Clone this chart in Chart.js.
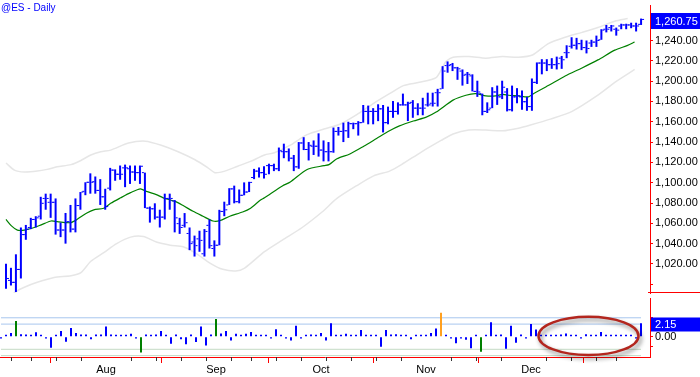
<!DOCTYPE html>
<html><head><meta charset="utf-8">
<script src="https://cdn.jsdelivr.net/npm/chart.js@4/dist/chart.umd.min.js"></script>
<style>
html,body{margin:0;padding:0;background:#fff;width:700px;height:377px;overflow:hidden;}
#wrap{position:relative;width:700px;height:377px;}
#cA{position:absolute;left:0;top:0;}
#cB{position:absolute;left:0;top:298px;}
#title{position:absolute;left:1px;top:2px;font:10px "Liberation Sans",Arial,sans-serif;color:#0000ff;line-height:12px;white-space:nowrap;}
</style></head><body>
<div id="wrap">
<canvas id="cA" width="700" height="298"></canvas>
<canvas id="cB" width="700" height="79"></canvas>
<div id="title">@ES - Daily</div>
</div>
<script>
// ---- Daily OHLC (index = trading day, Jul 1 .. end of Dec) ----
const openVals = [1011.4,1003.8,1001.9,1014.6,1048.9,1055.9,1063.8,1067.0,1084.5,1080.7,
1080.7,1053.4,1053.4,1061.6,1054.3,1077.5,1091.5,1100.4,1101.0,1092.4,
1086.1,1094.6,1112.4,1108.3,1114.6,1113.7,1110.5,1109.9,1109.9,1075.0,
1074.3,1066.1,1066.1,1084.5,1082.0,1059.7,1058.0,1050.0,1041.6,1044.7,
1030.0,1058.0,1035.2,1038.4,1071.7,1078.1,1093.9,1081.3,1087.6,1090.8,
1105.1,1111.4,1109.9,1116.8,1116.8,1113.7,1130.5,1130.5,1124.1,1115.6,
1139.1,1132.7,1135.9,1135.9,1132.1,1130.5,1130.5,1150.5,1150.5,1151.1,
1158.1,1158.1,1159.1,1170.2,1170.2,1170.2,1172.7,1159.1,1170.2,1170.2,
1176.6,1176.6,1179.1,1173.4,1173.4,1176.6,1178.2,1188.6,1192.4,1215.3,
1216.3,1213.1,1209.9,1206.7,1205.2,1189.9,1187.7,1170.2,1173.4,1189.3,
1184.5,1189.3,1171.8,1184.5,1184.5,1179.7,1174.9,1198.8,1217.8,1217.8,
1216.2,1216.2,1222.6,1228.0,1234.3,1235.3,1236.9,1233.0,1237.5,1238.4,
1240.7,1251.1,1252.7,1251.1,1254.3,1255.3,1255.3,1254.3,1255.9];
const highVals = [1020.3,1016.2,1029.5,1055.9,1058.4,1065.4,1067.0,1086.1,1089.2,1089.2,
1084.5,1060.7,1070.2,1078.1,1084.5,1090.8,1100.4,1109.2,1106.1,1103.5,
1094.0,1114.6,1113.1,1116.9,1117.8,1116.9,1116.9,1116.9,1109.9,1076.5,
1079.7,1073.4,1089.2,1089.2,1082.9,1065.4,1070.1,1055.9,1047.9,1052.7,
1054.3,1063.8,1043.2,1073.3,1081.3,1094.6,1097.1,1093.3,1100.3,1100.9,
1113.6,1115.0,1116.2,1118.7,1118.7,1134.6,1138.4,1133.7,1127.3,1140.0,
1144.8,1140.0,1141.6,1148.6,1141.6,1140.0,1154.3,1154.9,1159.1,1160.0,
1159.1,1160.6,1176.5,1175.9,1173.4,1177.2,1176.5,1174.9,1180.4,1179.1,
1187.7,1179.7,1181.3,1178.2,1183.6,1188.6,1188.6,1192.4,1214.7,1219.4,
1217.9,1214.0,1211.5,1209.0,1206.7,1200.4,1187.7,1179.1,1194.0,1195.6,
1200.4,1193.1,1195.6,1193.1,1190.8,1184.5,1202.6,1218.4,1221.6,1221.6,
1222.6,1224.1,1224.8,1235.3,1243.2,1242.6,1240.7,1240.0,1240.7,1244.8,
1251.1,1255.3,1255.3,1252.7,1256.5,1256.5,1257.5,1257.5,1261.6];
const lowVals = [995.6,998.8,992.4,1005.7,1043.8,1054.3,1055.9,1063.8,1073.4,1065.4,
1048.9,1046.4,1040.0,1051.1,1051.1,1073.4,1087.7,1089.2,1089.2,1078.1,
1073.4,1092.4,1101.9,1102.9,1095.6,1098.8,1101.9,1098.8,1075.0,1060.7,
1063.8,1055.9,1063.8,1073.4,1051.1,1049.6,1055.9,1033.6,1027.3,1032.0,
1027.3,1035.2,1027.3,1038.4,1067.0,1078.1,1079.7,1079.7,1087.6,1090.8,
1103.5,1105.1,1104.1,1108.3,1111.4,1111.4,1124.1,1121.0,1111.4,1113.7,
1132.1,1121.9,1127.3,1125.7,1121.0,1121.0,1129.5,1146.4,1140.0,1144.1,
1152.7,1146.4,1159.1,1157.5,1157.5,1160.6,1149.5,1157.5,1163.9,1167.1,
1175.9,1160.7,1163.9,1166.4,1166.4,1175.0,1175.0,1175.0,1192.4,1208.3,
1209.9,1201.3,1195.6,1197.2,1189.9,1184.5,1166.4,1168.6,1173.4,1176.6,
1182.3,1170.2,1170.2,1178.2,1171.8,1170.8,1170.8,1197.2,1206.7,1209.9,
1212.1,1211.5,1212.1,1222.6,1232.1,1231.1,1230.5,1227.3,1233.7,1233.7,
1240.7,1248.0,1248.9,1244.8,1251.1,1251.1,1252.1,1248.9,1255.3];
const closeVals = [1005.7,1001.9,1014.6,1048.9,1054.3,1063.8,1065.4,1079.7,1084.5,1080.7,
1053.4,1053.4,1061.6,1054.3,1077.5,1090.8,1100.4,1100.4,1092.4,1086.1,
1076.5,1112.4,1108.3,1108.3,1114.6,1110.5,1109.9,1116.2,1075.0,1074.3,
1066.1,1066.1,1084.5,1084.5,1065.4,1055.9,1060.6,1040.0,1038.0,1043.2,
1052.0,1038.0,1038.4,1071.7,1073.3,1093.9,1081.3,1087.6,1090.8,1100.3,
1111.4,1109.8,1108.3,1116.8,1113.7,1131.4,1130.5,1124.1,1115.6,1139.1,
1132.7,1136.8,1135.9,1132.1,1130.5,1130.5,1150.5,1150.5,1151.1,1158.1,
1158.1,1159.1,1170.2,1170.2,1170.2,1172.7,1159.1,1170.2,1170.2,1176.6,
1176.6,1178.2,1173.4,1173.4,1173.4,1176.6,1178.2,1188.6,1209.9,1215.3,
1213.1,1212.1,1205.8,1206.7,1189.9,1189.3,1170.2,1171.8,1189.3,1184.5,
1194.0,1171.8,1184.5,1185.5,1179.7,1174.9,1198.8,1217.8,1217.8,1216.2,
1216.2,1217.2,1221.0,1228.0,1235.3,1236.9,1233.0,1232.1,1238.4,1240.0,
1250.2,1251.1,1254.3,1250.2,1255.3,1255.3,1254.3,1254.3,1260.75];

// ---- Lower-pane oscillator, one value per day ----
const oscVals = [-0.3,0.3,0.6,2.5,0.4,0.35,0.3,0.7,0.3,-0.3,
-1.75,0.3,0.9,-0.8,1.4,0.6,0.35,0.35,-0.4,0.35,
0.35,1.6,0.35,0.3,0.3,0.3,0.45,-0.3,-2.5,0.35,
0.3,0.35,0.9,0.3,-1.1,0.35,-0.4,-1.2,0.35,-0.85,
1.6,-1.4,0.35,2.8,0.5,0.9,-0.6,0.45,0.3,0.45,
0.75,0.3,0.3,0.3,-0.3,1.2,0.3,-0.3,-0.6,1.75,
-0.3,0.3,0.35,0.3,0.6,-0.6,2.15,0.3,0.3,0.45,
0.3,0.3,1.05,0.3,0.3,0.3,-1.6,1.05,0.35,0.4,
0.3,0.3,-0.4,0.3,0.3,0.3,0.6,1.3,3.8,0.3,
-0.3,-1.05,-0.3,-0.5,-1.85,0.3,-2.4,0.3,2.3,0.3,
0.35,-1.9,1.75,-0.95,0.35,-0.3,2.0,1.15,0.3,0.3,
0.3,0.3,0.35,0.5,0.3,0.3,-0.3,0.4,0.3,0.3,
0.75,0.3,0.3,0.3,0.3,0.3,0.3,-0.3,2.15];
const oscLevelsUpper = [3, 2];
const oscLevelsLower = [-2, -3];

// ---- Moving average and envelope, read at day positions ----
const maIdx = [0,1.1,2.3,3.7,5.7,7.1,9.1,10.3,12.1,13.1,14.3,16.3,17.7,19.7,21.1,23.1,25.1,27.1,28.3,30.3,31.7,34.1,35.7,37.7,39.7,41.7,43.1,45.1,47.7,49.3,51.3,52.1,55.7,57.3,60.7,64.1,65.1,66.7,69.3,72.1,74.7,77.3,79.3,82.1,84.7,86.7,90.1,92.7,94.7,96.7,98.7,100.1,101.3,103.3,105.3,106.3,109.3,112.7,116.1,119.3,122.7,125.3,126.7];
const maVals = [1063.8,1057.5,1053.3,1053.3,1055.9,1058.5,1062.3,1061.6,1060.7,1060.7,1063.8,1070.2,1073.3,1074.9,1079.7,1085.1,1090.2,1094.0,1091.4,1088.3,1085.1,1081.6,1077.5,1071.8,1067.0,1062.3,1062.6,1067.0,1071.1,1074.9,1082.9,1085.1,1096.8,1100.7,1113.0,1116.8,1117.8,1123.5,1128.3,1135.9,1143.5,1151.1,1155.9,1160.7,1164.5,1169.5,1181.3,1186.1,1187.6,1185.4,1185.4,1187.0,1186.1,1185.4,1184.5,1187.6,1195.6,1205.1,1213.0,1220.9,1230.5,1235.2,1238.5];
const upperIdx = [0,1.7,3.7,6.3,8.3,10.3,13.1,15.1,17.1,19.1,21.1,24.7,28.1,31.3,34.7,38.1,40.7,42.1,44.1,46.7,49.3,52.1,54.1,57.3,60.7,64.1,67.3,70.7,74.1,77.3,80.1,83.3,86.7,88.1,88.7,90.1,93.3,96.7,100.1,103.3,106.1,109.3,112.7,116.1,119.3,122.7,125.3];
const upperVals = [1119.4,1112.4,1110.5,1111.4,1113.1,1115.6,1117.8,1121.9,1127.3,1130.5,1132.1,1139.0,1140.9,1136.9,1130.5,1122.6,1114.7,1109.9,1111.4,1116.2,1121.0,1127.3,1129.5,1136.9,1147.3,1152.8,1157.5,1167.0,1178.1,1187.6,1195.6,1198.8,1203.5,1214.7,1219.4,1223.5,1224.2,1222.6,1224.2,1223.5,1225.7,1236.9,1243.2,1248.0,1252.8,1259.0,1261.6];
const lowerIdx = [0,2.1,3.7,6.3,9.7,13.1,15.1,17.1,19.7,22.3,25.1,27.7,30.3,33.1,35.7,38.3,41.1,43.7,46.3,48.1,52.1,55.7,59.7,63.7,66.7,70.7,74.1,77.3,79.7,83.7,87.7,90.1,93.3,96.7,100.1,103.3,105.7,109.7,114.1,119.3,122.7,126.7];
const lowerVals = [984.5,993.1,997.1,1001.9,1006.7,1008.3,1011.4,1022.6,1031.1,1040.0,1046.4,1047.0,1041.6,1038.5,1036.9,1030.5,1020.9,1014.7,1013.0,1015.9,1032.1,1043.5,1055.9,1071.1,1084.5,1097.1,1106.7,1111.4,1117.8,1130.2,1141.6,1148.0,1151.8,1151.8,1151.1,1153.7,1156.8,1162.6,1170.2,1186.1,1198.8,1211.5];

// ---- Axis ticks ----
const priceTicks = [1000,1020,1040,1060,1080,1100,1120,1140,1160,1180,1200,1220,1240];
const monthLabels = ['Aug','Sep','Oct','Nov','Dec'];
const monthIdx = [21,43,64,85,106];
const weekIdx = [2,6,11,16,26,31,36,41,46,50,55,60,65,70,75,80,90,95,100,109,114,119,123];
const oscTicks = [3,0,-1.5];

const FONT = '"Liberation Sans", Arial, sans-serif';
Chart.defaults.font.family = FONT;
const N = closeVals.length;
const days = closeVals.map((_, i) => i);
const X_MIN = -0.2, X_MAX = 129.8;
const BLUE = '#0000ff', RED = '#ff0000';
const fmt2 = v => Number(v).toLocaleString('en-US', {minimumFractionDigits: 2, maximumFractionDigits: 2});
const noPad = s => { s.paddingTop = 0; s.paddingBottom = 0; s.paddingLeft = 0; s.paddingRight = 0; };

const pricePlugin = {
  id: 'priceDecor',
  afterDraw(chart) {
    const ctx = chart.ctx, ys = chart.scales.y, ca = chart.chartArea;
    ctx.save();
    ctx.strokeStyle = RED; ctx.lineWidth = 1;
    ctx.beginPath(); ctx.moveTo(ca.right - 2, ca.bottom - 0.5); ctx.lineTo(chart.width, ca.bottom - 0.5); ctx.stroke();
    const last = closeVals[N - 1];
    const y = Math.round(ys.getPixelForValue(last)) + 2;
    ctx.fillStyle = BLUE;
    ctx.fillRect(ca.right + 1, y - 8, chart.width - ca.right - 1, 16);
    ctx.fillStyle = '#ffffff';
    ctx.font = '11px ' + FONT;
    ctx.textBaseline = 'middle'; ctx.textAlign = 'left';
    ctx.fillText(fmt2(last), ca.right + 5, y + 0.5);
    ctx.restore();
  }
};

new Chart(document.getElementById('cA'), {
  type: 'bar',
  data: { datasets: [
    { type: 'line', data: upperIdx.map((x, k) => ({x, y: upperVals[k]})), borderColor: '#e6e6e6', borderWidth: 1.5, pointRadius: 0, tension: 0.25, order: 5 },
    { type: 'line', data: lowerIdx.map((x, k) => ({x, y: lowerVals[k]})), borderColor: '#e6e6e6', borderWidth: 1.5, pointRadius: 0, tension: 0.25, order: 5 },
    { type: 'line', data: maIdx.map((x, k) => ({x, y: maVals[k]})), borderColor: '#008000', borderWidth: 1.2, pointRadius: 0, tension: 0.25, order: 4 },
    { type: 'bar', data: days.map(i => ({x: i, y: [lowVals[i], highVals[i]]})), backgroundColor: BLUE, borderWidth: 0, inflateAmount: 0, barThickness: 2, grouped: false, order: 2 },
    { type: 'scatter', data: days.map(i => ({x: i - 0.4, y: openVals[i]})), pointStyle: 'line', pointRadius: 1, pointBorderWidth: 1, pointBorderColor: BLUE, pointBackgroundColor: BLUE, order: 1 },
    { type: 'scatter', data: days.map(i => ({x: i + 0.4, y: closeVals[i]})), pointStyle: 'line', pointRadius: 1, pointBorderWidth: 1, pointBorderColor: BLUE, pointBackgroundColor: BLUE, order: 1 }
  ]},
  options: {
    responsive: false, animation: false, devicePixelRatio: 1,
    layout: { padding: 0 },
    events: [],
    plugins: { legend: { display: false }, tooltip: { enabled: false } },
    scales: {
      x: { type: 'linear', min: X_MIN, max: X_MAX, display: false, offset: false },
      y: {
        position: 'right', min: 991.4, max: 1274.95,
        afterFit(s) { s.width = 50; noPad(s); },
        afterBuildTicks(s) { s.ticks = priceTicks.map(v => ({value: v})); },
        ticks: { callback: v => (v === 1000 ? '' : fmt2(v)), color: '#000', font: { size: 11 }, padding: 2 },
        grid: { drawOnChartArea: false, tickLength: 3, tickColor: RED, tickWidth: 1 },
        border: { color: RED, width: 1 }
      }
    }
  },
  plugins: [pricePlugin]
});

const oscColor = v => (v >= 3.5 ? '#ffa020' : (Math.abs(v) >= 2.35 ? '#008000' : BLUE));

const oscPlugin = {
  id: 'oscDecor',
  afterDraw(chart) {
    const ctx = chart.ctx, xs = chart.scales.x, ys = chart.scales.y, ca = chart.chartArea;
    ctx.save();
    ctx.strokeStyle = '#333'; ctx.lineWidth = 1;
    weekIdx.forEach(i => {
      const x = Math.round(xs.getPixelForValue(i)) + 0.5;
      ctx.beginPath(); ctx.moveTo(x, ca.bottom); ctx.lineTo(x, ca.bottom + 4); ctx.stroke();
    });
    const last = oscVals[N - 1];
    const y = Math.round(ys.getPixelForValue(last)) + 1.5;
    ctx.fillStyle = BLUE;
    ctx.fillRect(ca.right + 1, y - 7, chart.width - ca.right - 1, 14);
    ctx.fillStyle = '#ffffff';
    ctx.font = '11px ' + FONT;
    ctx.textBaseline = 'middle'; ctx.textAlign = 'left';
    ctx.fillText(last.toFixed(2), ca.right + 5, y + 0.5);
    const x1 = xs.getPixelForValue(107.5), x2 = xs.getPixelForValue(127.5);
    const y1 = ys.getPixelForValue(3.15), y2 = ys.getPixelForValue(-2.9);
    ctx.shadowColor = 'rgba(0,0,0,0.45)'; ctx.shadowBlur = 4; ctx.shadowOffsetX = 2; ctx.shadowOffsetY = 3;
    ctx.strokeStyle = '#b3261e'; ctx.lineWidth = 2.5;
    ctx.beginPath();
    ctx.ellipse((x1 + x2) / 2, (y1 + y2) / 2, (x2 - x1) / 2, (y2 - y1) / 2, 0, 0, Math.PI * 2);
    ctx.stroke();
    ctx.restore();
  }
};

const levelSet = (lv, color) => lv.map(l => ({ type: 'line', data: [{x: 0, y: l}, {x: N - 1, y: l}], borderColor: color, borderWidth: 1, pointRadius: 0, order: 5 }));

new Chart(document.getElementById('cB'), {
  type: 'bar',
  data: { datasets: [
    ...levelSet(oscLevelsUpper, '#a8c6ee'),
    ...levelSet(oscLevelsLower, '#c4dac4'),
    { type: 'bar', data: days.map(i => ({x: i, y: oscVals[i]})), backgroundColor: c => oscColor(oscVals[c.dataIndex] || 0), borderWidth: 0, inflateAmount: 0, barThickness: 2, grouped: false, order: 1 }
  ]},
  options: {
    responsive: false, animation: false, devicePixelRatio: 1,
    layout: { padding: 0 },
    events: [],
    plugins: { legend: { display: false }, tooltip: { enabled: false } },
    scales: {
      x: {
        type: 'linear', min: X_MIN, max: X_MAX, offset: false,
        afterFit(s) { s.height = 20; noPad(s); },
        afterBuildTicks(s) { s.ticks = monthIdx.map(v => ({value: v})); },
        ticks: { callback: v => monthLabels[monthIdx.indexOf(v)], autoSkip: false, maxRotation: 0, color: '#000', font: { size: 11 }, padding: 0 },
        grid: { drawOnChartArea: false, tickLength: 6, tickColor: RED },
        border: { color: RED, width: 1 }
      },
      y: {
        position: 'right', min: -3.22, max: 6.14,
        afterFit(s) { s.width = 50; noPad(s); },
        afterBuildTicks(s) { s.ticks = oscTicks.map(v => ({value: v})); },
        ticks: { callback: v => (v === 0 ? '0.00' : ''), color: '#000', font: { size: 11 }, padding: 2 },
        grid: { drawOnChartArea: false, tickLength: 3, tickColor: RED },
        border: { color: RED, width: 1 }
      }
    }
  },
  plugins: [oscPlugin]
});
</script>
</body></html>
